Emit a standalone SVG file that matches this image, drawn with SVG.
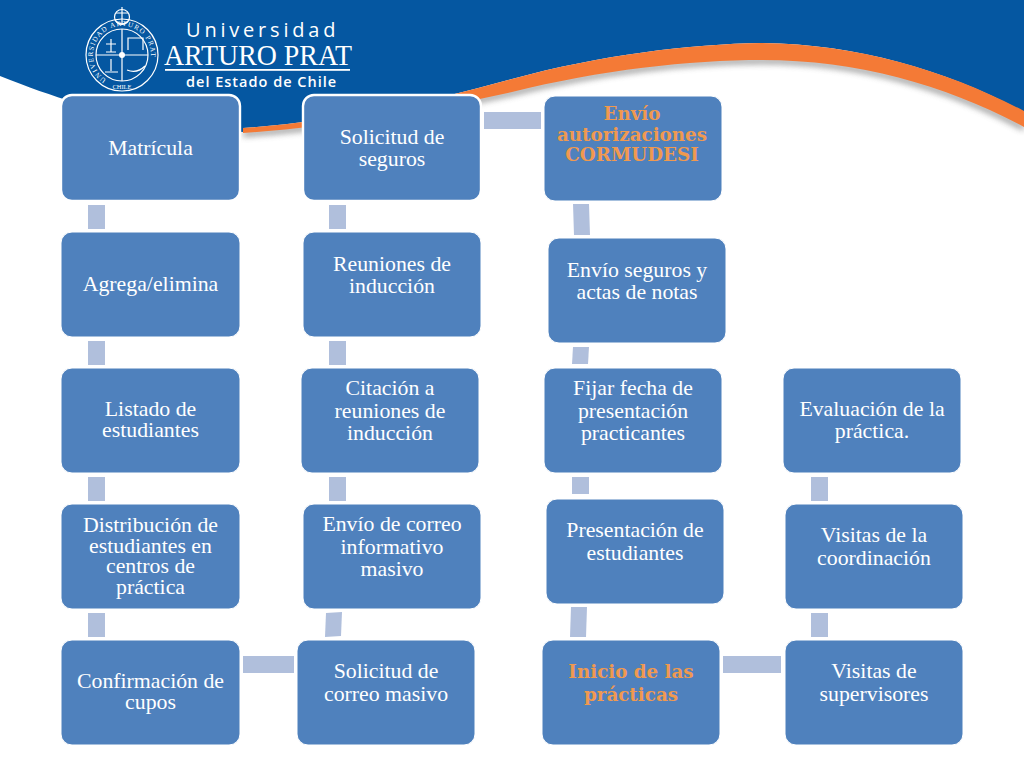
<svg xmlns="http://www.w3.org/2000/svg" width="1024" height="768" viewBox="0 0 1024 768">
<style>
.n{fill:#4f81bd;stroke:#fff;stroke-width:1}
.w{stroke-width:2.400}
.t{font-family:"Liberation Serif",serif;font-size:21.8px;fill:#fff;text-anchor:middle;transform:translateY(1px)}
.o{font-family:"DejaVu Serif",serif;font-size:18.300px;fill:#f0994f;font-weight:700}
.c{fill:#b0bfdc}
.s{fill:none;stroke:#fff}
</style>
<defs>
<filter id="b" x="-5%" y="-50%" width="110%" height="200%"><feGaussianBlur stdDeviation="3"/></filter>
<path id="ring" d="M122 84A29 29 0 1 1 122 26A29 29 0 1 1 122 84"/>
</defs>
<rect width="1024" height="768" fill="#fff"/>
<g id="header">
<path d="M243 134C330 128 420 113 512 93C600 71 690 61 762 61C860 61 950 88 1024 128" fill="none" stroke="#777" stroke-width="5" filter="url(#b)" opacity=".8"/>
<path d="M0 0H1024V112C950 72 860 44 762 43C690 44 600 55 512 79C420 105 330 122 243 128L243 132C180 128 110 120 0 76Z" fill="#0557a1"/>
<path d="M243 128C330 122 420 105 512 79C600 55 690 44 762 43C860 44 950 72 1024 111V127C950 87 860 60 762 60C690 60 600 70 512 92C420 112 330 127 243 133Z" fill="#f47a36"/>
</g>
<g id="logo">
<g class="s" stroke-width="1.2">
<circle cx="122" cy="55" r="36"/>
<circle cx="122" cy="55" r="26"/>
<path d="M122 29V81M96 55H148"/>
<circle cx="122" cy="17" r="7.500"/>
<path d="M122 7V25M116 13H128M115 20Q122 28 129 20"/>
<path d="M106 44H116M111 39V52M106 52H116M105 72H118M111 59V71M128 50V38H143V50M127 70Q137 74 145 66"/>
</g>
<circle cx="122" cy="55" r="3" fill="#fff"/>
<text font-family="Liberation Serif,serif" font-size="7" fill="#fff" letter-spacing="1.150"><textPath href="#ring" startOffset="9%">UNIVERSIDAD ARTURO PRAT</textPath></text>
<text font-family="Liberation Serif,serif" font-size="6.500" fill="#fff" text-anchor="middle" x="122" y="88.500">CHILE</text>
<text x="186" y="37" font-family="Open Sans,sans-serif" font-size="20" fill="#fff" letter-spacing="3.800">Universidad</text>
<text x="164" y="65" font-family="Liberation Serif,serif" font-size="29" fill="#fff" textLength="188" lengthAdjust="spacingAndGlyphs">ARTURO PRAT</text>
<rect x="165" y="69" width="185" height="1.800" fill="#fff"/>
<text x="186" y="87" font-family="Open Sans,sans-serif" font-size="14.500" font-weight="600" fill="#fff" letter-spacing="1">del Estado de Chile</text>
</g>
<g id="connectors" class="c">
<rect x="88" y="205" width="17" height="24"/>
<rect x="88" y="341" width="17" height="24"/>
<rect x="88" y="477" width="17" height="24"/>
<rect x="88" y="613" width="17" height="24"/>
<rect x="243" y="656" width="51" height="17"/>
<polygon points="326,613 342,612 341,636 325,637"/>
<rect x="329" y="477" width="17" height="24"/>
<rect x="329" y="341" width="17" height="24"/>
<rect x="329" y="205" width="17" height="24"/>
<rect x="484" y="112" width="57" height="17"/>
<polygon points="573,204 589,204 590,235 574,235"/>
<polygon points="573,347 589,347 588,364 572,364"/>
<rect x="572" y="477" width="17" height="17"/>
<polygon points="571,607 587,607 586,637 570,637"/>
<rect x="723" y="656" width="58" height="17"/>
<rect x="811" y="613" width="17" height="24"/>
<rect x="811" y="477" width="17" height="24"/>
</g>
<g id="n1"><rect class="n w" x="61" y="95" width="179" height="106" rx="11"/><text class="t"><tspan x="150.500" y="154">Matrícula</tspan></text></g>
<g id="n2"><rect class="n" x="61" y="232" width="179" height="105" rx="11"/><text class="t"><tspan x="150.500" y="290">Agrega/elimina</tspan></text></g>
<g id="n3"><rect class="n" x="61" y="368" width="179" height="105" rx="11"/><text class="t"><tspan x="150.500" y="415">Listado de</tspan><tspan x="150.500" y="436">estudiantes</tspan></text></g>
<g id="n4"><rect class="n" x="61" y="504" width="179" height="105" rx="11"/><text class="t"><tspan x="150.500" y="531">Distribución de</tspan><tspan x="150.500" y="552">estudiantes en</tspan><tspan x="150.500" y="572">centros de</tspan><tspan x="150.500" y="593">práctica</tspan></text></g>
<g id="n5"><rect class="n" x="61" y="640" width="179" height="105" rx="11"/><text class="t"><tspan x="150.500" y="687">Confirmación de</tspan><tspan x="150.500" y="708">cupos</tspan></text></g>
<g id="n6"><rect class="n" x="297" y="640" width="178" height="105" rx="11"/><text class="t"><tspan x="386" y="677">Solicitud de</tspan><tspan x="386" y="700">correo masivo</tspan></text></g>
<g id="n7"><rect class="n" x="303" y="504" width="178" height="105" rx="11"/><text class="t"><tspan x="392" y="530">Envío de correo</tspan><tspan x="392" y="553">informativo</tspan><tspan x="392" y="575">masivo</tspan></text></g>
<g id="n8"><rect class="n" x="301" y="368" width="178" height="105" rx="11"/><text class="t"><tspan x="390" y="394">Citación a</tspan><tspan x="390" y="417">reuniones de</tspan><tspan x="390" y="439">inducción</tspan></text></g>
<g id="n9"><rect class="n" x="303" y="232" width="178" height="105" rx="11"/><text class="t"><tspan x="392" y="270">Reuniones de</tspan><tspan x="392" y="292">inducción</tspan></text></g>
<g id="n10"><rect class="n w" x="303" y="95" width="178" height="106" rx="11"/><text class="t"><tspan x="392" y="143">Solicitud de</tspan><tspan x="392" y="165">seguros</tspan></text></g>
<g id="n11"><rect class="n" x="544" y="96" width="178" height="105" rx="11"/><text class="t o"><tspan x="632" y="119">Envío</tspan><tspan x="632" y="140">autorizaciones</tspan><tspan x="632" y="160">CORMUDESI</tspan></text></g>
<g id="n12"><rect class="n" x="548" y="238" width="178" height="105" rx="11"/><text class="t"><tspan x="637" y="276">Envío seguros y</tspan><tspan x="637" y="298">actas de notas</tspan></text></g>
<g id="n13"><rect class="n" x="544" y="368" width="178" height="105" rx="11"/><text class="t"><tspan x="633" y="394">Fijar fecha de</tspan><tspan x="633" y="417">presentación</tspan><tspan x="633" y="439">practicantes</tspan></text></g>
<g id="n14"><rect class="n" x="546" y="499" width="178" height="105" rx="11"/><text class="t"><tspan x="635" y="536">Presentación de</tspan><tspan x="635" y="559">estudiantes</tspan></text></g>
<g id="n15"><rect class="n" x="542" y="640" width="178" height="105" rx="11"/><text class="t o"><tspan x="631" y="677">Inicio de las</tspan><tspan x="631" y="700">prácticas</tspan></text></g>
<g id="n16"><rect class="n" x="785" y="640" width="178" height="105" rx="11"/><text class="t"><tspan x="874" y="677">Visitas de</tspan><tspan x="874" y="700">supervisores</tspan></text></g>
<g id="n17"><rect class="n" x="785" y="504" width="178" height="105" rx="11"/><text class="t"><tspan x="874" y="541">Visitas de la</tspan><tspan x="874" y="564">coordinación</tspan></text></g>
<g id="n18"><rect class="n" x="783" y="368" width="178" height="105" rx="11"/><text class="t"><tspan x="872" y="415">Evaluación de la</tspan><tspan x="872" y="437">práctica.</tspan></text></g>
</svg>
